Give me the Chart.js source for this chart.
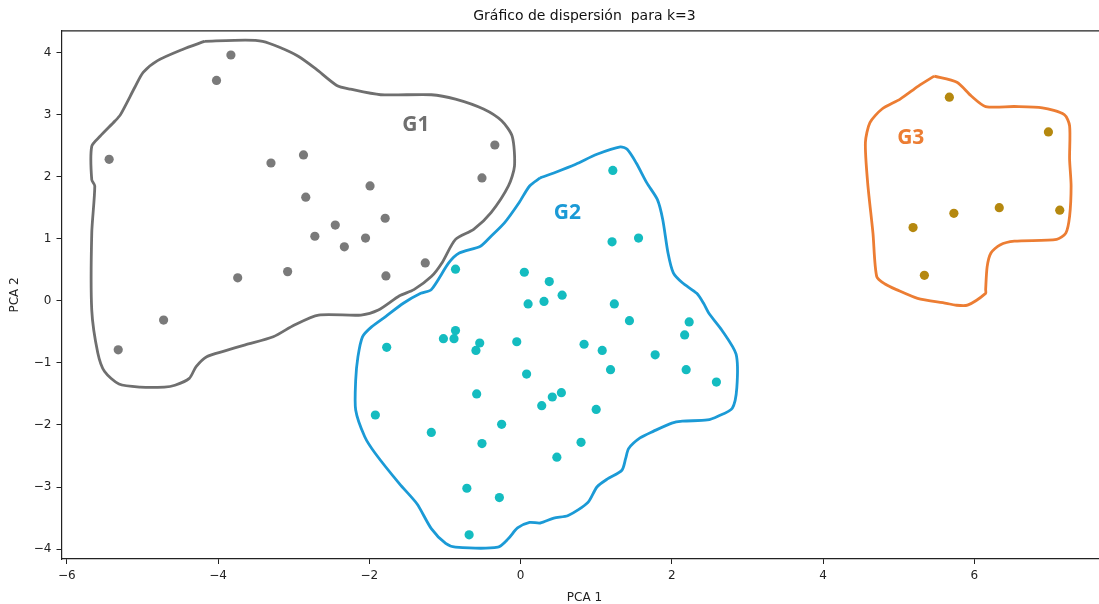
<!DOCTYPE html>
<html>
<head>
<meta charset="utf-8">
<title>Gráfico de dispersión para k=3</title>
<script src="https://cdn.jsdelivr.net/npm/chart.js@4.4.1/dist/chart.umd.min.js"></script>
<style>
  html, body { margin: 0; padding: 0; overflow: hidden; background: #fff; }
</style>
</head>
<body>
<canvas id="scatterChart" width="1112" height="604"></canvas>
<script>
// Cluster points (PCA 1, PCA 2)
const g1X = [-3.83, -4.02, -5.44, -3.30, -2.87, -2.84, -1.99, -1.79, -2.45, -2.72,
             -2.33, -2.05, -0.34, -0.51, -1.26, -1.78, -3.08, -3.74, -4.72, -5.32];
const g1Y = [3.96, 3.55, 2.28, 2.22, 2.35, 1.67, 1.85, 1.33, 1.22, 1.04,
             0.87, 1.01, 2.51, 1.98, 0.61, 0.40, 0.47, 0.37, -0.31, -0.79];

const g2X = [-0.86, 0.05, 0.38, 0.10, 0.31, 0.55, 1.22, 1.21, 1.56, 1.24,
             1.44, 2.23, 2.17, 0.84, 1.08, 1.78, 1.19, 2.19, 2.59, -0.86,
             -1.02, -0.88, -0.54, -0.59, -0.05, -1.77, 0.08, -0.58, 0.28, 0.42,
             0.54, 1.00, -1.92, -1.18, -0.25, -0.51, 0.80, 0.48, -0.71, -0.28, -0.68];
const g2Y = [0.51, 0.46, 0.31, -0.05, -0.01, 0.09, 2.10, 0.95, 1.01, -0.05,
             -0.32, -0.34, -0.55, -0.70, -0.80, -0.87, -1.11, -1.11, -1.31, -0.48,
             -0.61, -0.61, -0.68, -0.80, -0.66, -0.75, -1.18, -1.50, -1.69, -1.55,
             -1.48, -1.75, -1.84, -2.12, -1.99, -2.30, -2.28, -2.52, -3.02, -3.17, -3.77];

const g3X = [5.67, 6.98, 5.73, 6.33, 7.13, 5.19, 5.34];
const g3Y = [3.28, 2.72, 1.41, 1.50, 1.46, 1.18, 0.41];

// Hand-drawn group outlines, in data units
const g1Outline = [
  [-4.18, 4.18], [-3.64, 4.20], [-3.41, 4.18], [-3.18, 4.08], [-2.94, 3.94], [-2.71, 3.74],
  [-2.43, 3.47], [-2.25, 3.41], [-1.85, 3.32], [-1.18, 3.32], [-0.86, 3.25], [-0.49, 3.09],
  [-0.25, 2.90], [-0.11, 2.65], [-0.08, 2.17], [-0.16, 1.85], [-0.39, 1.42], [-0.62, 1.15],
  [-0.86, 0.99], [-1.04, 0.61], [-1.18, 0.39], [-1.41, 0.18], [-1.60, 0.08], [-1.88, -0.15],
  [-2.11, -0.23], [-2.67, -0.23], [-2.99, -0.39], [-3.27, -0.58], [-3.64, -0.71], [-3.92, -0.81],
  [-4.15, -0.90], [-4.29, -1.06], [-4.38, -1.25], [-4.57, -1.36], [-4.71, -1.39], [-5.03, -1.39],
  [-5.31, -1.34], [-5.50, -1.14], [-5.59, -0.84], [-5.67, -0.15], [-5.67, 1.09], [-5.63, 1.85],
  [-5.67, 1.95], [-5.67, 2.49], [-5.56, 2.65], [-5.36, 2.90], [-5.29, 3.00], [-5.10, 3.44],
  [-4.99, 3.68], [-4.80, 3.87], [-4.47, 4.05], [-4.18, 4.18]
];
const g2Outline = [
  [0.26, 1.98], [0.44, 2.06], [0.73, 2.20], [1.01, 2.36], [1.32, 2.48], [1.41, 2.44],
  [1.53, 2.22], [1.67, 1.90], [1.81, 1.63], [1.88, 1.31], [1.95, 0.77], [2.02, 0.45],
  [2.14, 0.29], [2.33, 0.12], [2.42, -0.04], [2.49, -0.20], [2.66, -0.47], [2.85, -0.86],
  [2.86, -1.40], [2.80, -1.73], [2.61, -1.86], [2.47, -1.92], [2.14, -1.94], [2.00, -1.97],
  [1.76, -2.10], [1.58, -2.21], [1.43, -2.38], [1.39, -2.54], [1.34, -2.73], [1.15, -2.87],
  [1.01, -3.00], [0.89, -3.25], [0.63, -3.46], [0.44, -3.50], [0.26, -3.58], [0.12, -3.57],
  [-0.04, -3.66], [-0.16, -3.83], [-0.30, -3.97], [-0.86, -3.97], [-0.99, -3.91], [-1.18, -3.67],
  [-1.37, -3.27], [-1.60, -2.95], [-1.92, -2.46], [-2.06, -2.19], [-2.18, -1.76], [-2.18, -1.28],
  [-2.15, -0.90], [-2.09, -0.58], [-1.97, -0.42], [-1.78, -0.25], [-1.55, -0.04], [-1.32, 0.12],
  [-1.18, 0.18], [-0.95, 0.61], [-0.81, 0.77], [-0.53, 0.88], [-0.39, 1.04], [-0.21, 1.26],
  [-0.02, 1.58], [0.12, 1.85], [0.26, 1.98]
];
const g3Outline = [
  [5.47, 3.62], [5.77, 3.52], [5.96, 3.30], [6.15, 3.13], [6.53, 3.13], [6.90, 3.11],
  [7.19, 3.00], [7.26, 2.82], [7.26, 2.28], [7.28, 1.85], [7.26, 1.36], [7.21, 1.09],
  [7.09, 0.99], [6.53, 0.96], [6.34, 0.90], [6.22, 0.77], [6.17, 0.55], [6.15, 0.18],
  [6.15, 0.12], [5.91, -0.07], [5.75, -0.07], [5.63, -0.04], [5.25, 0.04], [4.97, 0.18],
  [4.82, 0.27], [4.71, 0.39], [4.66, 1.09], [4.59, 1.90], [4.56, 2.55], [4.62, 2.87],
  [4.78, 3.09], [5.02, 3.25], [5.26, 3.46], [5.47, 3.62]
];

// Group labels written on the figure
const groupLabels = ['G1', 'G2', 'G3'];
const labelX = [-1.385, 0.62, 5.16];
const labelY = [2.83, 1.41, 2.62];

const xTicks = [-6, -4, -2, 0, 2, 4, 6];
const yTicks = [-4, -3, -2, -1, 0, 1, 2, 3, 4];

const pointColors = ['#7a7a7a', '#14bcc0', '#b5880f'];
const outlineColors = ['#6f6f6f', '#1b9ad6', '#ec7d33'];

const toPoints = (xs, ys) => xs.map((x, i) => ({ x: x, y: ys[i] }));
const toPath = arr => arr.map(p => ({ x: p[0], y: p[1] }));
const minus = v => String(v).replace('-', '\u2212');

const outlineDataset = (path, color) => ({
    type: 'scatter',
    data: toPath(path),
    showLine: true,
    borderColor: color,
    borderWidth: 2.8,
    pointRadius: 0,
    fill: false,
    tension: 0.25
});

const pointDataset = (xs, ys, color) => ({
    type: 'scatter',
    data: toPoints(xs, ys),
    backgroundColor: color,
    borderWidth: 0,
    pointRadius: 4.6
});

// draws the frame (top spine) and the G1/G2/G3 labels
const decorations = {
    id: 'decorations',
    afterDatasetsDraw(chart) {
        const { ctx, chartArea, scales } = chart;
        ctx.save();
        ctx.strokeStyle = '#222';
        ctx.lineWidth = 1.2;
        ctx.beginPath();
        ctx.moveTo(chartArea.left, chartArea.top);
        ctx.lineTo(chartArea.right, chartArea.top);
        ctx.lineTo(chartArea.right, chartArea.bottom);
        ctx.stroke();

        ctx.font = 'bold 21px "Open Sans", "Liberation Sans", sans-serif';
        ctx.textAlign = 'center';
        ctx.textBaseline = 'middle';
        groupLabels.forEach((txt, i) => {
            ctx.fillStyle = outlineColors[i];
            ctx.fillText(txt, scales.x.getPixelForValue(labelX[i]), scales.y.getPixelForValue(labelY[i]));
        });
        ctx.restore();
    }
};

const ctx = document.getElementById('scatterChart').getContext('2d');
new Chart(ctx, {
    type: 'scatter',
    data: {
        datasets: [
            outlineDataset(g1Outline, outlineColors[0]),
            outlineDataset(g2Outline, outlineColors[1]),
            outlineDataset(g3Outline, outlineColors[2]),
            pointDataset(g1X, g1Y, pointColors[0]),
            pointDataset(g2X, g2Y, pointColors[1]),
            pointDataset(g3X, g3Y, pointColors[2])
        ]
    },
    options: {
        responsive: false,
        animation: false,
        layout: { padding: 0 },
        plugins: {
            legend: { display: false },
            tooltip: { enabled: false },
            title: {
                display: true,
                fullSize: false,
                text: 'Gráfico de dispersión  para k=3',
                color: '#111',
                font: { family: 'DejaVu Sans', size: 14, weight: 'normal' },
                padding: { top: 8, bottom: 6 }
            }
        },
        scales: {
            x: {
                type: 'linear',
                min: -6.07,
                max: 7.76,
                afterFit: s => { s.height = 45; },
                afterBuildTicks: s => { s.ticks = xTicks.map(v => ({ value: v })); },
                grid: { display: true, drawOnChartArea: false, drawTicks: true, tickLength: 5, color: '#222' },
                border: { display: true, color: '#222', width: 1.2 },
                ticks: {
                    padding: 5,
                    color: '#222',
                    font: { family: 'DejaVu Sans', size: 12 },
                    callback: v => minus(v)
                },
                title: {
                    display: true,
                    text: 'PCA 1',
                    color: '#222',
                    font: { family: 'DejaVu Sans', size: 12, lineHeight: 1 },
                    padding: { top: 0, bottom: 0 }
                }
            },
            y: {
                type: 'linear',
                min: -4.16,
                max: 4.35,
                afterFit: s => { s.width = 61.5; },
                afterBuildTicks: s => { s.ticks = yTicks.map(v => ({ value: v })); },
                grid: { display: true, drawOnChartArea: false, drawTicks: true, tickLength: 5, color: '#222' },
                border: { display: true, color: '#222', width: 1.2 },
                ticks: {
                    padding: 5,
                    color: '#222',
                    font: { family: 'DejaVu Sans', size: 12 },
                    callback: v => minus(v)
                },
                title: {
                    display: true,
                    text: 'PCA 2',
                    color: '#222',
                    font: { family: 'DejaVu Sans', size: 12 },
                    padding: { top: 8, bottom: 0 }
                }
            }
        }
    },
    plugins: [decorations]
});
</script>
</body>
</html>
